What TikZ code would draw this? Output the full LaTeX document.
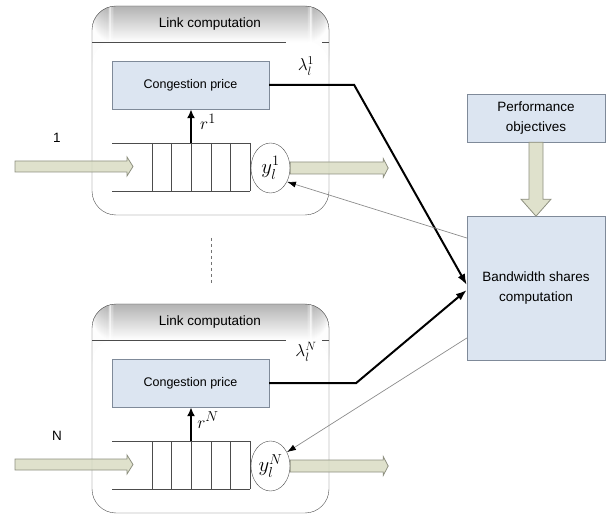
\documentclass[tikz,border=0pt]{standalone}
\usepackage{amsmath}
\usepackage{fontspec}
\setmainfont{Liberation Sans}
\usetikzlibrary{shapes.geometric,arrows.meta,positioning}

\definecolor{priceblue}{HTML}{DCE5F1}
\definecolor{pipegreen}{HTML}{D9DCC3}
\definecolor{pipeedge}{HTML}{8E9080}
\definecolor{boxedge}{HTML}{7F8A99}

\tikzset{
  linkbox/.style={draw=black!70, rounded corners=24pt, minimum width=237pt, minimum height=209pt, inner sep=0pt,
    path picture={\foreach \k [evaluate=\k as \g using 30-30*\k/36] in {0,...,35}
      \fill[black!\g] ([yshift=-\k*1pt]path picture bounding box.north west) rectangle ([yshift=-\k*1pt-1.6pt]path picture bounding box.north east);}},
  pricebox/.style={draw=boxedge, fill=priceblue, minimum width=157pt, minimum height=48pt, font=\fontsize{12.5}{15}\selectfont},
  ctrlbox/.style={draw=boxedge, fill=priceblue, minimum width=138pt, align=center, font=\fontsize{13.5}{20}\selectfont},
  hdr/.style={font=\fontsize{13.5}{16}\selectfont},
  pipe/.style={draw=pipeedge, fill=pipegreen, fill opacity=0.85, line width=0.8pt},
  feed/.style={black!45, line width=0.7pt, -{Latex[length=9pt,width=6pt,color=black]}},
  price/.style={line width=2pt, -{Latex[length=11pt,width=8pt]}},
  rate/.style={line width=2pt, -{Latex[length=9pt,width=8pt]}},
  outq/.style={ellipse, draw=black!70, minimum width=39pt, minimum height=50pt, inner sep=0pt, font=\fontsize{20}{20}\selectfont},
  pics/fatarr/.style n args={4}{code={
    \draw[pipe] (0,-#2) -- (#1-#4,-#2) -- (#1-#4,-#3) -- (#1,0) -- (#1-#4,#3) -- (#1-#4,#2) -- (0,#2) -- cycle;}}
}

\begin{document}
\begin{tikzpicture}[x=1pt,y=-1pt]
  \useasboundingbox (0,0) rectangle (606,516);
  % the two link blocks
  \foreach \i/\dy/\ly in {1/0/66, N/298/54}{
    \begin{scope}[shift={(0,\dy)}]
      \node[linkbox] (link\i) at (210.5,110.5) {};
      \node[hdr] at (210,24) {Link computation};
      \draw[black!70] (92,42) -- (286,42) (322,42) -- (329,42);
      \node[pricebox] (price\i) at (190.5,85) {Congestion price};
      % queue
      \draw[black!70] (112,143) -- (250,143) (112,191) -- (250,191);
      \foreach \c in {0,...,5} \draw[black!70] ({152+19.6*\c},143) -- ++(0,48);
      \coordinate (q\i) at (191,143);
      \node[outq] (y\i) at (270.5,168) {$y_l^{\i}$};
      \draw[rate] (q\i) -- (price\i.south -| q\i);
      \node[font=\fontsize{19}{19}\selectfont] at (208,122) {$r^{\i}$};
      \node[font=\fontsize{18}{18}\selectfont] at (306,\ly) {$\lambda_l^{\i}$};
      \node[hdr] at (57,138) {\i};
      \coordinate (in\i) at (15,166.5);
      \pic at (in\i) {fatarr={118}{5.5}{9.5}{6}};
      \pic at (y\i.east) {fatarr={98}{6}{9.5}{5}};
    \end{scope}
  }
  \draw[dashed, black!55] (211,238) -- (211,285);

  \node[ctrlbox, minimum height=48pt] (perf) at (536,118) {Performance\\objectives};
  \node[ctrlbox, minimum height=144pt] (bw) at (536,288) {Bandwidth shares\\computation};
  \pic[rotate=-90] at (perf.south) {fatarr={74}{7}{15}{17}};

  \draw[price] (price1.east) -- ++(85,0) -- ([yshift=3pt]bw.west);
  \draw[price] (priceN.east) -- ++(87,0) -- ([yshift=-2pt]bw.west);
  \draw[feed] ([yshift=50pt]bw.west) -- (y1.-40);
  \draw[feed] ([yshift=-50pt]bw.west) -- (yN.40);
  % \draw[help lines] (0,0) grid[step=50] (606,516);
\end{tikzpicture}
\end{document}
